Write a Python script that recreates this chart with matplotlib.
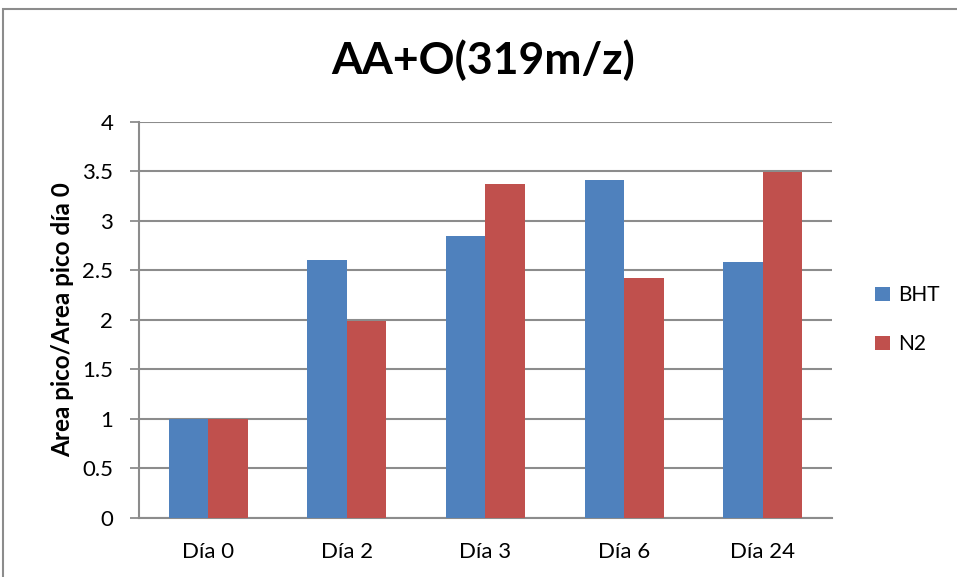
import matplotlib.pyplot as plt
import numpy as np
from matplotlib.patches import Rectangle

# Data
categories = ["Día 0", "Día 2", "Día 3", "Día 6", "Día 24"]
bht_values = [1.0, 2.60, 2.85, 3.41, 2.58]
n2_values = [1.0, 1.99, 3.37, 2.42, 3.49]
y_ticks = [0, 0.5, 1, 1.5, 2, 2.5, 3, 3.5, 4]
y_tick_labels = ["0", "0.5", "1", "1.5", "2", "2.5", "3", "3.5", "4"]

plt.rcParams['font.family'] = ['Lato', 'DejaVu Sans']

grid_color = "#8c8c8c"
bht_color = "#4f81bd"
n2_color = "#c0504d"

fig = plt.figure(figsize=(9.57, 5.77), dpi=100)
ax = fig.add_axes([0.1452, 0.1023, 0.7242, 0.6867])

x = np.arange(len(categories))
width = 0.285
ax.bar(x - width / 2, bht_values, width, color=bht_color, label="BHT", zorder=3)
ax.bar(x + width / 2, n2_values, width, color=n2_color, label="N2", zorder=3)

ax.set_xlim(-0.5, len(categories) - 0.5)
ax.set_ylim(0, 4)
ax.set_yticks(y_ticks)
ax.set_yticklabels(y_tick_labels, fontsize=16)
ax.set_xticks(x)
ax.set_xticklabels(categories, fontsize=16)
ax.tick_params(axis='x', length=0, pad=17)
ax.tick_params(axis='y', length=6.5, width=1.3, color=grid_color, pad=12)

ax.yaxis.grid(True, color=grid_color, linewidth=1.5, zorder=0)
for side in ["top", "right"]:
    ax.spines[side].set_visible(False)
for side in ["left", "bottom"]:
    ax.spines[side].set_color(grid_color)
    ax.spines[side].set_linewidth(1.5)

ax.set_ylabel("Area pico/Area pico día 0", fontsize=17.5, fontweight="bold", labelpad=6)

fig.text(0.505, 0.895, "AA+O(319m/z)", ha="center", va="center",
         fontsize=32, fontweight="bold")

leg = ax.legend(loc="center left", bbox_to_anchor=(1.035, 0.5), frameon=False,
                fontsize=15, handlelength=0.7, handleheight=0.7,
                labelspacing=1.4, handletextpad=0.4)

# chart area border
fig.patches.append(Rectangle((3 / 957, -0.1), 1.2, 1 - 9 / 577 + 0.1,
                             transform=fig.transFigure, fill=False,
                             edgecolor="#8c8c8c", linewidth=1.5))

fig.savefig("out.png", dpi=100)
